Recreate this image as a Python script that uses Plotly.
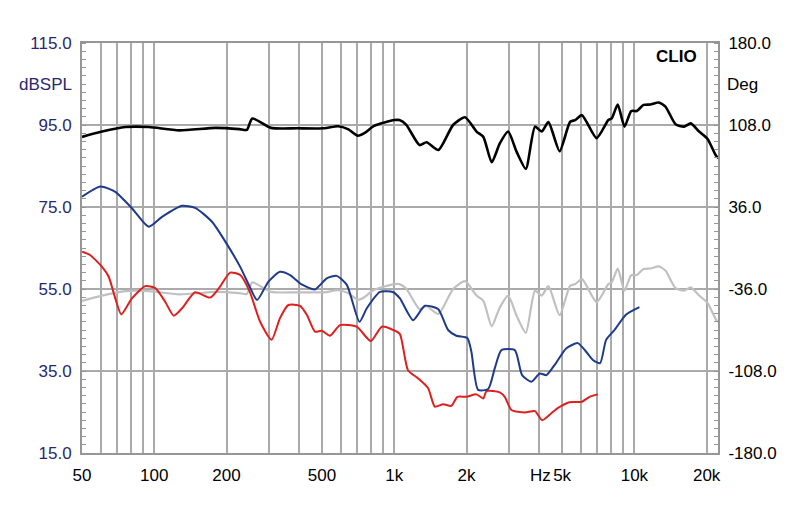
import plotly.graph_objects as go
import math

# ---- data ----
freq_black = [50, 60.6, 75.9, 95, 127, 180, 226, 243, 256, 306, 396, 511, 583, 641, 705, 750, 824,
              1000, 1050, 1120, 1274, 1362, 1526, 1757, 1970, 2200, 2350, 2545, 2750, 2980, 3230,
              3530, 3855, 4110, 4385, 4880, 5400, 5670, 6050, 6960, 7790, 8045, 8525, 9095, 9700,
              10235, 10920, 11650, 12630, 13470, 14840, 16090, 17170, 18610, 20180, 21890, 22950]
spl_black = [92.1, 93.4, 94.5, 94.5, 93.7, 94.3, 94.0, 93.8, 96.6, 94.3, 94.2, 94.2, 94.7, 94.0, 92.4,
             93.0, 94.8, 96.2, 96.2, 95.1, 90.1, 90.8, 88.9, 95.0, 96.9, 93.4, 92.1, 85.9, 90.5, 93.4,
             88.5, 84.3, 94.6, 93.4, 95.7, 88.6, 95.8, 96.2, 97.4, 91.8, 96.2, 96.6, 100.0, 94.6,
             98.4, 98.4, 99.9, 100.0, 100.5, 99.5, 95.2, 94.6, 95.4, 93.4, 91.6, 87.5, 86.5]

freq_gray = freq_black
spl_gray = [52.1, 53.4, 54.5, 54.5, 53.7, 54.3, 54.0, 53.8, 56.6, 54.3, 54.2, 54.2, 54.7, 54.0, 52.4,
            53.0, 54.8, 56.2, 56.2, 55.1, 50.1, 50.8, 48.9, 55.0, 56.9, 53.4, 52.1, 45.9, 50.5, 53.4,
            48.5, 44.3, 54.6, 53.4, 55.7, 48.6, 55.8, 56.2, 57.4, 51.8, 56.2, 56.6, 60.0, 54.6,
            58.4, 58.4, 59.9, 60.0, 60.5, 59.5, 55.2, 54.6, 55.4, 53.4, 51.6, 47.5, 46.5]

freq_blue = [50, 59.6, 68.8, 80.7, 94.8, 107.7, 130.5, 148, 174, 198, 228, 250, 268, 299, 334, 368,
             411, 467, 523, 575, 634, 716, 768, 872, 990, 1055, 1197, 1340, 1522, 1675, 1813, 2016,
             2094, 2233, 2460, 2622, 2793, 3177, 3405, 3724, 4036, 4300, 4720, 5195, 5810, 6295,
             6715, 7196, 7625, 8260, 9240, 10495]
spl_blue = [77.5, 80.0, 78.7, 74.7, 70.2, 72.6, 75.3, 74.8, 71.4, 66.5, 60.4, 55.5, 52.3, 56.8, 59.2,
            58.4, 56.1, 54.9, 57.6, 58.2, 56.0, 47.0, 50.3, 54.3, 54.2, 52.7, 47.4, 50.9, 50.1, 45.0,
            43.6, 43.0, 39.7, 30.4, 30.6, 35.7, 40.1, 40.1, 34.0, 32.4, 34.4, 34.0, 37.0, 40.5, 41.8,
            39.7, 37.7, 36.9, 42.6, 45.0, 48.8, 50.6]

freq_red = [50, 54, 60.6, 64.6, 68.8, 72.9, 80.7, 91.8, 101, 111, 120.5, 130.5, 148, 171, 186, 207,
            228, 250, 276, 308, 334, 362, 405, 432, 467, 499, 540, 594, 697, 798, 887, 990, 1055,
            1140, 1256, 1383, 1475, 1596, 1729, 1831, 1996, 2198, 2350, 2420, 2750, 2885, 3075,
            3495, 3855, 4130, 4510, 4810, 5360, 6050, 6500, 7040]
spl_red = [64.1, 63.3, 60.4, 58.0, 52.7, 48.8, 52.7, 55.7, 55.2, 51.9, 48.5, 50.3, 54.2, 52.9, 55.2,
           59.0, 58.4, 54.3, 47.0, 42.6, 47.9, 51.1, 50.9, 48.7, 44.6, 44.8, 43.6, 46.2, 45.8, 42.3,
           45.8, 45.0, 44.0, 35.2, 33.2, 30.8, 26.3, 26.9, 26.5, 28.7, 28.7, 29.3, 28.3, 30.1, 29.8,
           28.7, 25.5, 24.9, 25.2, 23.0, 24.7, 26.0, 27.4, 27.5, 28.7, 29.3]

x_grid = [50, 60, 70, 80, 90, 100, 200, 300, 400, 500, 600, 700, 800, 900, 1000, 2000, 3000, 4000,
          5000, 6000, 7000, 8000, 9000, 10000, 20000]
x_labels = {50: "50", 100: "100", 200: "200", 500: "500", 1000: "1k", 2000: "2k", 5000: "5k",
            10000: "10k", 20000: "20k"}
y_left_ticks = [15, 35, 55, 75, 95, 115]
y_right_ticks = [-180, -108, -36, 36, 108, 180]

# ---- figure ----
FONT = "Liberation Sans, Arial, sans-serif"
GRID = "rgb(170,170,170)"
NAVY = "rgb(40,40,110)"
FS = 17
fig = go.Figure()

def add(fx, fy, color, width):
    fig.add_trace(go.Scatter(x=fx, y=fy, mode="lines", line=dict(color=color, width=width,
                             shape="spline", smoothing=0.6), hoverinfo="skip", showlegend=False))

add(freq_gray, spl_gray, "rgb(192,192,192)", 2.2)
add(freq_black, spl_black, "black", 2.6)
add(freq_red, spl_red, "rgb(222,32,32)", 2.0)
add(freq_blue, spl_blue, "rgb(30,58,140)", 2.0)
fig.add_trace(go.Scatter(x=[None], y=[None], yaxis="y2", showlegend=False, hoverinfo="skip"))

HIDDEN = "rgba(0,0,0,0)"
fig.update_layout(
    width=800, height=512,
    margin=dict(l=82, r=82, t=43, b=59),
    paper_bgcolor="white", plot_bgcolor="white",
    font=dict(family=FONT, size=FS, color="black"),
    xaxis=dict(type="log", range=[math.log10(50), math.log10(22300)],
               tickmode="array", tickvals=x_grid,
               ticktext=[x_labels.get(v, "") for v in x_grid],
               showgrid=True, gridcolor=GRID, gridwidth=1.5,
               showline=True, linecolor="rgb(150,150,150)", linewidth=2, mirror=True,
               ticks="outside", ticklen=6, tickcolor=HIDDEN,
               zeroline=False, tickfont=dict(size=FS, color="black")),
    yaxis=dict(range=[15, 115], tickmode="array", tickvals=y_left_ticks,
               ticktext=[f"{v:.1f}" for v in y_left_ticks],
               showgrid=True, gridcolor=GRID, gridwidth=1.5,
               showline=True, linecolor="rgb(150,150,150)", linewidth=2, mirror=True,
               ticks="outside", ticklen=5, tickcolor=HIDDEN,
               zeroline=False, tickfont=dict(size=FS, color=NAVY),
               minor=dict(ticks="inside", tick0=15, dtick=2, ticklen=4,
                          tickcolor="rgb(150,150,150)", showgrid=False)),
    yaxis2=dict(range=[-180, 180], overlaying="y", side="right", tickmode="array",
                tickvals=y_right_ticks, ticktext=[f"{v:.1f}" for v in y_right_ticks],
                showgrid=False, zeroline=False, showline=False,
                ticks="outside", ticklen=6, tickcolor=HIDDEN,
                tickfont=dict(size=FS, color="black"),
                minor=dict(ticks="inside", tick0=-180, dtick=7.2, ticklen=4,
                           tickcolor="rgb(150,150,150)", showgrid=False)),
    annotations=[
        dict(text="dBSPL", xref="paper", yref="paper", x=-0.013, y=0.9, xanchor="right",
             yanchor="middle", showarrow=False, font=dict(size=FS, color=NAVY)),
        dict(text="Deg", xref="paper", yref="paper", x=1.011, y=0.9, xanchor="left",
             yanchor="middle", showarrow=False, font=dict(size=FS, color="black")),
        dict(text="<b>CLIO</b>", xref="paper", yref="paper", x=0.97, y=0.966, xanchor="right",
             yanchor="middle", showarrow=False, font=dict(size=FS, color="black")),
        dict(text="Hz", xref="x", yref="paper", x=math.log10(5000), y=-0.054, xanchor="right",
             yanchor="middle", xshift=-9, showarrow=False, font=dict(size=FS, color="black")),
    ],
)

fig.write_html("out.html")
